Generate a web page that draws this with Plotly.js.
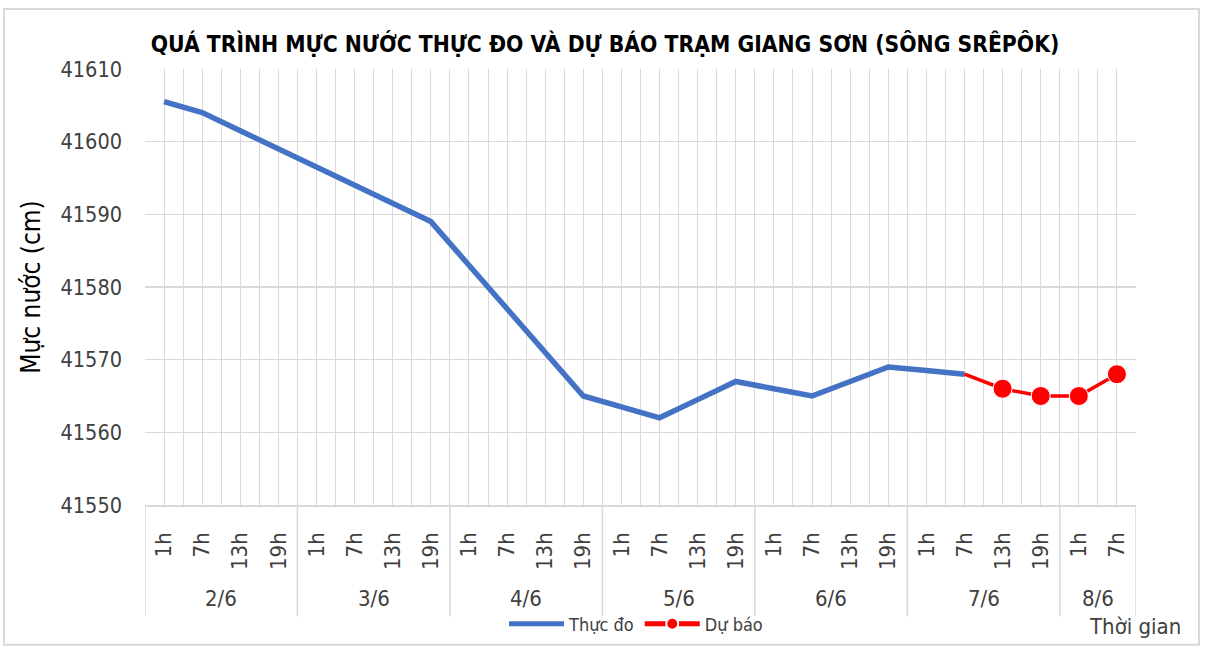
<!DOCTYPE html>
<html>
<head>
<meta charset="utf-8">
<script src="https://cdn.plot.ly/plotly-3.0.1.min.js"></script>
<style>
html,body{margin:0;padding:0;background:#fff;}
#chart{width:1206px;height:655px;}
</style>
</head>
<body>
<div id="chart"></div>
<script>
// ---- data ----
const days = ['2/6', '3/6', '4/6', '5/6', '6/6', '7/6', '8/6'];
const dayCounts = [4, 4, 4, 4, 4, 4, 2];
const hourLabels = ['1h','7h','13h','19h', '1h','7h','13h','19h', '1h','7h','13h','19h',
                    '1h','7h','13h','19h', '1h','7h','13h','19h', '1h','7h','13h','19h',
                    '1h','7h'];
const observed = [41605.5, 41604, 41601.5, 41599, 41596.5, 41594, 41591.5, 41589,
                  41583, 41577, 41571, 41565, 41563.5, 41562, 41564.5, 41567,
                  41566, 41565, 41567, 41569, 41568.5, 41568, null, null, null, null];
const forecast = [null, null, null, null, null, null, null, null, null, null, null, null,
                  null, null, null, null, null, null, null, null, null, 41568, 41566, 41565,
                  41565, 41568];
const seriesNames = ['Thực đo', 'Dự báo'];
const chartTitle = 'QUÁ TRÌNH MỰC NƯỚC THỰC ĐO VÀ DỰ BÁO TRẠM GIANG SƠN (SÔNG SRÊPÔK)';
const yTitle = 'Mực nước (cm)';
const xTitle = 'Thời gian';

// ---- build ----
const xIdx = hourLabels.map((_, i) => i);
const firstF = forecast.findIndex(v => v !== null);
const fSizes = forecast.map((v, i) => (i === firstF ? 0 : 19));

const FONT = '"DejaVu Sans Condensed", "Noto Sans", sans-serif';
const TXT = '#404040';
const GRID = '#d9d9d9';

const traces = [
  {x: xIdx, y: observed, name: seriesNames[0], type: 'scatter', mode: 'lines',
   line: {color: '#4472C4', width: 5.5}, connectgaps: false},
  {x: xIdx, y: forecast, name: seriesNames[1], type: 'scatter', mode: 'lines+markers',
   line: {color: '#FF0000', width: 3.5}, marker: {color: '#FF0000', size: fSizes, opacity: 1}}
];

// group boundaries & labels
const shapes = [];
const annotations = [];
let start = 0;
const plotH = 512 - 69;
const divBottom = -(625 - 512) / plotH;
shapes.push({type: 'line', xref: 'x', yref: 'paper', x0: -0.5, x1: -0.5, y0: 0, y1: divBottom,
             line: {color: GRID, width: 1.5}});
days.forEach((d, k) => {
  const n = dayCounts[k];
  const end = start + n;
  shapes.push({type: 'line', xref: 'x', yref: 'paper', x0: end - 0.5, x1: end - 0.5, y0: 0, y1: divBottom,
               line: {color: GRID, width: 1.5}});
  annotations.push({xref: 'x', yref: 'paper', x: (start + end - 1) / 2, y: -(607 - 512) / plotH,
                    text: d, showarrow: false, xanchor: 'center', yanchor: 'middle',
                    font: {family: FONT, size: 22, color: TXT}});
  start = end;
});
annotations.push({xref: 'paper', yref: 'paper', x: (1135 - 145) / 991, y: -(635 - 512) / plotH,
                  text: xTitle, showarrow: false, xanchor: 'center', yanchor: 'middle',
                  font: {family: FONT, size: 22, color: TXT}});
// outer border
shapes.push({type: 'rect', xref: 'paper', yref: 'paper',
             x0: (4 - 145) / 991, x1: (1199 - 145) / 991, y0: -(654 - 512) / plotH, y1: 1 + (69 - 8) / plotH,
             line: {color: GRID, width: 2}});

const layout = {
  width: 1206, height: 655,
  margin: {l: 145, r: 70, t: 69, b: 143, pad: 0},
  paper_bgcolor: '#fff', plot_bgcolor: '#fff',
  title: {text: '<b>' + chartTitle + '</b>', x: 605 / 1206, xref: 'container', xanchor: 'center',
          y: 1 - 44 / 655, yanchor: 'middle', font: {family: FONT, size: 22.7, color: '#000'}},
  showlegend: true,
  legend: {orientation: 'h', x: (636 - 145) / 991, xanchor: 'center', y: -(633 - 512) / plotH, yanchor: 'middle',
           font: {family: FONT, size: 18, color: TXT}, itemwidth: 55, itemsizing: 'constant',
           bgcolor: 'rgba(0,0,0,0)', tracegroupgap: 0},
  xaxis: {range: [-0.5, xIdx.length - 0.5], tickmode: 'array', tickvals: xIdx, ticktext: hourLabels,
          tickangle: -90, tickfont: {family: FONT, size: 22, color: TXT}, ticks: '', ticklabelstandoff: 17,
          showgrid: true, gridcolor: GRID, gridwidth: 1,
          minor: {tickmode: 'linear', tick0: -0.5, dtick: 1, showgrid: true, gridcolor: GRID, gridwidth: 1},
          showline: true, linecolor: GRID, linewidth: 1.5, zeroline: false, fixedrange: true},
  yaxis: {range: [41550, 41610], dtick: 10, tick0: 41550, tickformat: 'd',
          tickfont: {family: FONT, size: 21.5, color: TXT}, ticks: '', ticklabelstandoff: 22,
          showgrid: true, gridcolor: GRID, gridwidth: 1.5, zeroline: false, showline: false,
          title: {text: yTitle, standoff: 12, font: {family: FONT, size: 26, color: '#000'}},
          fixedrange: true},
  shapes: shapes,
  annotations: annotations
};

Plotly.newPlot('chart', traces, layout, {displayModeBar: false, staticPlot: true});
</script>
</body>
</html>
